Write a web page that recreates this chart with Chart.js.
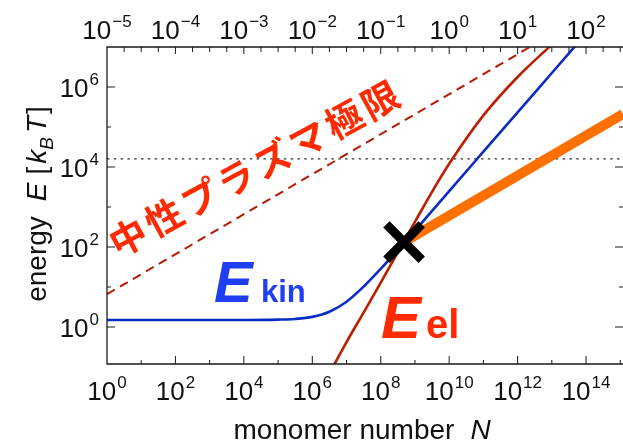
<!DOCTYPE html>
<html>
<head>
<meta charset="utf-8">
<script src="https://cdn.jsdelivr.net/npm/chart.js@4"></script>
<style>
  html, body { margin: 0; padding: 0; background: #fff; }
  canvas { display: block; }
</style>
</head>
<body>
<canvas id="c" width="623" height="445" style="width:623px;height:445px"></canvas>
<script>
// Energies in units of k_B T against monomer number N.

// kinetic energy E_kin
const kinN = [1, 1e2, 1e4, 1e5, 3.16e5, 1e6, 3.16e6, 1e7, 3.16e7, 1e8, 4.8e8, 1e9, 1e10, 1e11, 1e12, 1e13, 1e14];
const kinE = [1.5, 1.5, 1.5, 1.53, 1.59, 1.79, 2.4, 4.29, 10.2, 28.4, 127, 258, 2500, 24100, 2.32e5, 2.24e6, 2.16e7];

// electrostatic energy E_el
const elN = [3.16e6, 1e7, 3.16e7, 1e8, 3.16e8, 1e9, 3.16e9, 1e10, 1e11, 1e12, 1e13];
const elE = [0.069, 0.42, 2.3, 12.9, 74, 427, 2400, 12000, 1.95e5, 1.78e6, 1.15e7];

// neutral plasma limit (dashed)
const plasmaN = [1, 1e15];
const plasmaE = [6.6, 2.09e8];

// horizontal reference level (dotted)
const levelN = [1, 1.2e15];
const levelE = [1.6e4, 1.6e4];

// branch beyond the crossover (thick orange)
const branchN = [4.8e8, 1.2e15];
const branchE = [133, 2.11e5];

// crossover point
const crossN = [4.8e8];
const crossE = [133];

// axis ranges and tick exponents
const xRange = [1, Math.pow(10, 15.08)];
const yRange = [Math.pow(10, -0.925), 1e7];
const topRange = [1e-5, Math.pow(10, 2.54)];
const bottomLabelExp = [0, 2, 4, 6, 8, 10, 12, 14];
const topLabelExp = [-5, -4, -3, -2, -1, 0, 1, 2];
const leftLabelExp = [0, 2, 4, 6];

const pts = (xs, ys) => xs.map((x, i) => ({ x, y: ys[i] }));

const SANS = '"Liberation Sans", Arial, Helvetica, sans-serif';

function expText(e) { return e < 0 ? '\u2212' + Math.abs(e) : String(e); }
function drawPow(ctx, exp, x, baseline, align) {
  ctx.font = '26px ' + SANS;
  const wb = ctx.measureText('10').width;
  ctx.font = '17px ' + SANS;
  const ws = ctx.measureText(expText(exp)).width;
  const total = wb + ws + 1;
  const start = align === 'right' ? x - total : x - total / 2;
  ctx.textAlign = 'left';
  ctx.textBaseline = 'alphabetic';
  ctx.font = '26px ' + SANS;
  ctx.fillText('10', start, baseline);
  ctx.font = '17px ' + SANS;
  ctx.fillText(expText(exp), start + wb + 1, baseline - 12);
}

const decorations = {
  id: 'decorations',
  afterDatasetsDraw(chart) {
    const { ctx, chartArea: a, scales } = chart;
    const xs = scales.x, ys = scales.y, xt = scales.xTop;
    ctx.save();

    // frame
    ctx.strokeStyle = '#1a1a1a';
    ctx.lineWidth = 1.3;
    ctx.beginPath();
    ctx.moveTo(a.right, a.top);
    ctx.lineTo(a.left, a.top);
    ctx.lineTo(a.left, a.bottom);
    ctx.lineTo(a.right, a.bottom);
    ctx.stroke();

    // inward ticks
    ctx.lineWidth = 1;
    ctx.beginPath();
    for (let e = 1; e <= 15; e++) {
      const x = xs.getPixelForValue(Math.pow(10, e));
      const len = e % 2 === 0 ? 8 : 4;
      ctx.moveTo(x, a.bottom);
      ctx.lineTo(x, a.bottom - len);
    }
    for (let k = 1; k <= 30; k++) {
      const x = xt.getPixelForValue(Math.pow(10, -5 + k / 4));
      const len = k % 4 === 0 ? 7 : 5;
      ctx.moveTo(x, a.top);
      ctx.lineTo(x, a.top + len);
    }
    for (let e = 0; e <= 6; e++) {
      const y = ys.getPixelForValue(Math.pow(10, e));
      const len = e % 2 === 0 ? 8 : 4;
      ctx.moveTo(a.left, y);
      ctx.lineTo(a.left + len, y);
      ctx.moveTo(a.right, y);
      ctx.lineTo(a.right - len, y);
    }
    ctx.stroke();

    // tick labels
    ctx.fillStyle = '#111';
    bottomLabelExp.forEach(e => drawPow(ctx, e, xs.getPixelForValue(Math.pow(10, e)), 400, 'center'));
    topLabelExp.forEach(e => drawPow(ctx, e, xt.getPixelForValue(Math.pow(10, e)), 39, 'center'));
    leftLabelExp.forEach(e => drawPow(ctx, e, 99, ys.getPixelForValue(Math.pow(10, e)) + 10, 'right'));

    // x title
    ctx.textBaseline = 'alphabetic';
    ctx.textAlign = 'left';
    ctx.font = '28px ' + SANS;
    const t1 = 'monomer number';
    const w1 = ctx.measureText(t1).width;
    ctx.font = 'italic 28px ' + SANS;
    const wN = ctx.measureText('N').width;
    const gap = 16;
    const sx = 362 - (w1 + gap + wN) / 2;
    ctx.font = '28px ' + SANS;
    ctx.fillText(t1, sx, 439);
    ctx.font = 'italic 28px ' + SANS;
    ctx.fillText('N', sx + w1 + gap, 439);

    // y title, rotated
    ctx.save();
    ctx.translate(46, 204);
    ctx.rotate(-Math.PI / 2);
    const parts = [
      ['energy', '28px', 0, 15],
      ['E', 'italic 28px', 0, 8],
      ['[', '28px', 0, 3],
      ['k', 'italic 28px', 0, 0],
      ['B', 'italic 19px', 7, 4],
      ['T', 'italic 28px', 0, 2],
      [']', '28px', 0, 0]
    ];
    let total = 0;
    parts.forEach(p => { ctx.font = p[1] + ' ' + SANS; total += ctx.measureText(p[0]).width + p[3]; });
    let px = -total / 2;
    parts.forEach(p => {
      ctx.font = p[1] + ' ' + SANS;
      ctx.fillText(p[0], px, p[2]);
      px += ctx.measureText(p[0]).width + p[3];
    });
    ctx.restore();

    // curve names
    ctx.fillStyle = '#1f3ef5';
    ctx.font = 'italic bold 58px ' + SANS;
    ctx.fillText('E', 214, 302);
    ctx.font = 'bold 31px ' + SANS;
    ctx.fillText('kin', 261, 302);

    ctx.fillStyle = '#ff2a00';
    ctx.font = 'italic bold 60px ' + SANS;
    ctx.fillText('E', 381, 338);
    ctx.font = 'bold 40px ' + SANS;
    ctx.fillText('el', 426, 338);

    // annotation along the neutral plasma limit
    const label = '中性プラズマ極限';
    ctx.save();
    ctx.translate(128, 237);
    ctx.rotate(-Math.atan2(137, 252));
    ctx.fillStyle = '#ff2a00';
    ctx.font = '700 37px "Noto Sans CJK JP", sans-serif';
    ctx.textAlign = 'center';
    ctx.textBaseline = 'middle';
    const step = Math.hypot(252, 137) / (label.length - 1);
    [...label].forEach((ch, i) => ctx.fillText(ch, i * step, 0));
    ctx.restore();

    ctx.restore();
  }
};

new Chart(document.getElementById('c'), {
  type: 'line',
  data: {
    datasets: [
      { data: pts(crossN, crossE), showLine: false, pointStyle: 'crossRot', pointRadius: 25,
        pointBorderWidth: 9, pointBorderColor: '#000', pointBackgroundColor: '#000', order: 0 },
      { data: pts(elN, elE), borderColor: '#bf1d00', borderWidth: 2.6, pointRadius: 0,
        cubicInterpolationMode: 'monotone', clip: 0, order: 1 },
      { data: pts(kinN, kinE), borderColor: '#0b2bc7', borderWidth: 2.6, pointRadius: 0,
        cubicInterpolationMode: 'monotone', clip: 0, order: 2 },
      { data: pts(branchN, branchE), borderColor: '#ff7000', borderWidth: 10, pointRadius: 0,
        tension: 0, clip: 0, order: 3 },
      { data: pts(levelN, levelE), borderColor: '#333', borderWidth: 1.2, borderDash: [2.5, 4.3],
        pointRadius: 0, tension: 0, clip: 0, order: 4 },
      { data: pts(plasmaN, plasmaE), borderColor: '#b51a00', borderWidth: 2, borderDash: [9, 6],
        pointRadius: 0, tension: 0, clip: 0, order: 5 }
    ]
  },
  options: {
    responsive: false,
    animation: false,
    events: [],
    layout: { autoPadding: false, padding: { left: 107, top: 47, right: 0, bottom: 81 } },
    scales: {
      x: { type: 'logarithmic', min: xRange[0], max: xRange[1], display: false },
      y: { type: 'logarithmic', min: yRange[0], max: yRange[1], display: false },
      xTop: { type: 'logarithmic', axis: 'x', position: 'top', min: topRange[0], max: topRange[1], display: false }
    },
    plugins: { legend: { display: false }, tooltip: { enabled: false } }
  },
  plugins: [decorations]
});
</script>
</body>
</html>
